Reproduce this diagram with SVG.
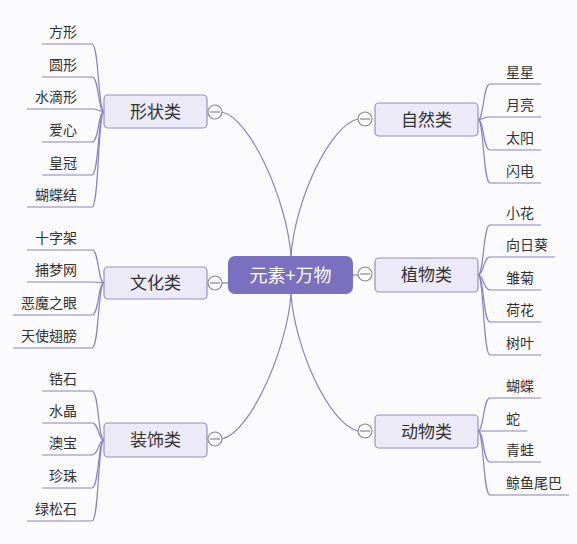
<svg xmlns="http://www.w3.org/2000/svg" width="577" height="544" viewBox="0 0 577 544">
<style>
.c{fill:none;stroke:#8a82c4;stroke-width:1.2}
.n{fill:#eceaf7;stroke:#958ecb;stroke-width:1.2}
.t{font-family:"Noto Sans CJK SC","Microsoft YaHei",sans-serif;fill:#333}
.l{font-size:14px}
.b{font-size:17px;text-anchor:middle}
.e{text-anchor:end}
.tg circle{fill:#fbfbfd;stroke:#8a8a8a;stroke-width:1.2}
.tg line{stroke:#8a8a8a;stroke-width:1.2}
</style>
<rect width="577" height="544" fill="#fbfbfd"/>
<g id="connectors">
<path class="c" d="M291,256 C287,200 250,118 222,112"/>
<path class="c" d="M291,256 C295,200 330,125 358,119"/>
<path class="c" d="M353,275 L358,275"/>
<path class="c" d="M228,283 L222,283"/>
<path class="c" d="M291,294 C287,350 250,433 222,439"/>
<path class="c" d="M291,294 C295,350 330,425 358,431"/>
<path class="c" d="M104,111.5 C98,111.5 99,44 92,44 L42,44"/>
<path class="c" d="M104,111.5 C98,111.5 99,77 92,77 L42,77"/>
<path class="c" d="M104,111.5 C98,111.5 99,109 92,109 L27,109"/>
<path class="c" d="M104,111.5 C98,111.5 99,142 92,142 L42,142"/>
<path class="c" d="M104,111.5 C98,111.5 99,175 92,175 L42,175"/>
<path class="c" d="M104,111.5 C98,111.5 99,207 92,207 L27,207"/>
<path class="c" d="M104,283 C98,283 99,250 92,250 L27,250"/>
<path class="c" d="M104,283 C98,283 99,282 92,282 L27,282"/>
<path class="c" d="M104,283 C98,283 99,315 92,315 L13,315"/>
<path class="c" d="M104,283 C98,283 99,348 92,348 L13,348"/>
<path class="c" d="M104,440 C98,440 99,391 92,391 L42,391"/>
<path class="c" d="M104,440 C98,440 99,423 92,423 L42,423"/>
<path class="c" d="M104,440 C98,440 99,455 92,455 L42,455"/>
<path class="c" d="M104,440 C98,440 99,488 92,488 L42,488"/>
<path class="c" d="M104,440 C98,440 99,521 92,521 L27,521"/>
<path class="c" d="M478,119.5 C484,119.5 483,84 490,84 L541,84"/>
<path class="c" d="M478,119.5 C484,119.5 483,117 490,117 L541,117"/>
<path class="c" d="M478,119.5 C484,119.5 483,150 490,150 L541,150"/>
<path class="c" d="M478,119.5 C484,119.5 483,183 490,183 L541,183"/>
<path class="c" d="M478,275 C484,275 483,225 490,225 L541,225"/>
<path class="c" d="M478,275 C484,275 483,257 490,257 L555,257"/>
<path class="c" d="M478,275 C484,275 483,290 490,290 L541,290"/>
<path class="c" d="M478,275 C484,275 483,322 490,322 L541,322"/>
<path class="c" d="M478,275 C484,275 483,355 490,355 L541,355"/>
<path class="c" d="M478,431 C484,431 483,398 490,398 L541,398"/>
<path class="c" d="M478,431 C484,431 483,431 490,431 L527,431"/>
<path class="c" d="M478,431 C484,431 483,462 490,462 L541,462"/>
<path class="c" d="M478,431 C484,431 483,495 490,495 L569,495"/>
</g>
<g id="center">
<rect x="228" y="256" width="125" height="38" rx="7" fill="#7a70bf"/>
<text class="t" x="290.5" y="282" font-size="18" text-anchor="middle" style="fill:#fff">元素+万物</text>
</g>
<g id="node-xingzhuang">
<rect class="n" x="104" y="95" width="103" height="33" rx="4"/>
<text class="t b" x="155.5" y="118">形状类</text>
<g class="tg"><circle cx="215" cy="112" r="7"/><line x1="210" y1="112" x2="220" y2="112"/></g>
</g>
<g id="node-wenhua">
<rect class="n" x="104" y="267" width="103" height="32" rx="4"/>
<text class="t b" x="155.5" y="289">文化类</text>
<g class="tg"><circle cx="215" cy="283" r="7"/><line x1="210" y1="283" x2="220" y2="283"/></g>
</g>
<g id="node-zhuangshi">
<rect class="n" x="104" y="423" width="103" height="34" rx="4"/>
<text class="t b" x="155.5" y="446">装饰类</text>
<g class="tg"><circle cx="215" cy="439" r="7"/><line x1="210" y1="439" x2="220" y2="439"/></g>
</g>
<g id="node-ziran">
<rect class="n" x="375" y="103" width="103" height="33" rx="4"/>
<text class="t b" x="426.5" y="126">自然类</text>
<g class="tg"><circle cx="365" cy="119" r="7"/><line x1="360" y1="119" x2="370" y2="119"/></g>
</g>
<g id="node-zhiwu">
<rect class="n" x="375" y="258" width="103" height="34" rx="4"/>
<text class="t b" x="426.5" y="281">植物类</text>
<g class="tg"><circle cx="365" cy="274" r="7"/><line x1="360" y1="274" x2="370" y2="274"/></g>
</g>
<g id="node-dongwu">
<rect class="n" x="375" y="415" width="103" height="33" rx="4"/>
<text class="t b" x="426.5" y="438">动物类</text>
<g class="tg"><circle cx="365" cy="431" r="7"/><line x1="360" y1="431" x2="370" y2="431"/></g>
</g>
<g id="leaves-left" class="t l e">
<text x="77" y="37">方形</text>
<text x="77" y="70">圆形</text>
<text x="77" y="102">水滴形</text>
<text x="77" y="135">爱心</text>
<text x="77" y="168">皇冠</text>
<text x="77" y="200">蝴蝶结</text>
<text x="77" y="243">十字架</text>
<text x="77" y="275">捕梦网</text>
<text x="77" y="308">恶魔之眼</text>
<text x="77" y="341">天使翅膀</text>
<text x="77" y="384">锆石</text>
<text x="77" y="416">水晶</text>
<text x="77" y="448">澳宝</text>
<text x="77" y="481">珍珠</text>
<text x="77" y="514">绿松石</text>
</g>
<g id="leaves-right" class="t l">
<text x="506" y="77">星星</text>
<text x="506" y="110">月亮</text>
<text x="506" y="143">太阳</text>
<text x="506" y="176">闪电</text>
<text x="506" y="218">小花</text>
<text x="506" y="250">向日葵</text>
<text x="506" y="283">雏菊</text>
<text x="506" y="315">荷花</text>
<text x="506" y="348">树叶</text>
<text x="506" y="391">蝴蝶</text>
<text x="506" y="424">蛇</text>
<text x="506" y="455">青蛙</text>
<text x="506" y="488">鲸鱼尾巴</text>
</g>
</svg>
